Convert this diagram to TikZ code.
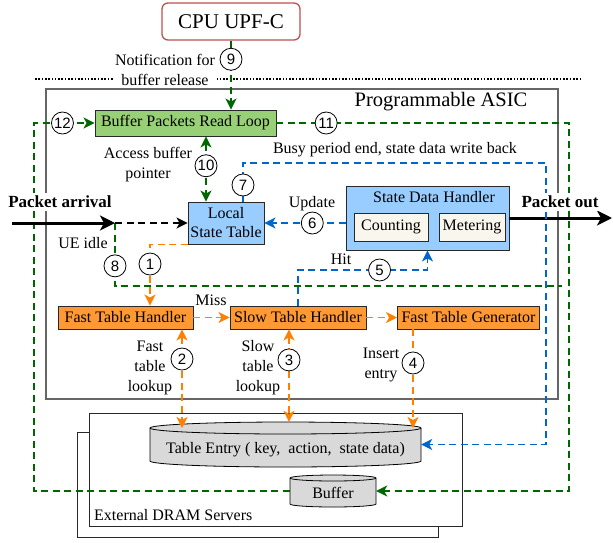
\documentclass[tikz,border=0pt]{standalone}
\usepackage{fontspec}
\setmainfont{Liberation Serif}
\newfontfamily\numfont{Liberation Sans}
\usetikzlibrary{arrows.meta}
\begin{document}
\begin{tikzpicture}[x=1pt,y=-1pt,
  >={Stealth[length=11pt,width=11pt,inset=3pt]},
  box/.style={draw={rgb,255:red,40;green,40;blue,40},line width=0.9pt,inner sep=0pt,font=\fontsize{16}{19}\selectfont},
  orangebox/.style={box,fill={rgb,255:red,255;green,153;blue,51},minimum height=23},
  bluebox/.style={box,fill={rgb,255:red,153;green,204;blue,255}},
  creambox/.style={box,fill={rgb,255:red,249;green,247;blue,237},minimum height=28},
  cylbody/.style={fill={rgb,255:red,217;green,217;blue,217},draw=black,line width=0.8pt},
  dramframe/.style={fill=white,draw={rgb,255:red,40;green,40;blue,40},line width=0.8pt},
  lbl/.style={inner sep=1pt,align=center,font=\fontsize{16}{20}\selectfont},
  cover/.style={lbl,fill=white},
  pktlbl/.style={cover,inner sep=3pt,font=\bfseries\fontsize{17}{20}\selectfont},
  numc/.style={circle,draw=black,solid,fill=white,line width=0.8pt,minimum size=22,inner sep=0pt,font=\numfont\fontsize{15}{15}\selectfont},
  flow/.style={line width=1.6pt,dash pattern=on 7pt off 4.5pt},
  gline/.style={flow,draw={rgb,255:red,0;green,102;blue,0}},
  bline/.style={flow,draw={rgb,255:red,0;green,102;blue,204}},
  oline/.style={flow,draw={rgb,255:red,255;green,128;blue,0}},
  kline/.style={flow,draw=black},
  pktline/.style={draw=black,line width=3pt,-{Stealth[length=15pt,width=15pt,inset=4pt]}}
]
\path[use as bounding box] (0,0) rectangle (613,542);
\draw[line width=1.6pt,dash pattern=on 1.6pt off 1.7pt] (35,79) -- (581,79);
\node[draw={rgb,255:red,184;green,84;blue,80},line width=1.3pt,rounded corners=6pt,fill=white,minimum width=138,minimum height=37,font=\fontsize{21}{24}\selectfont] (cpu) at (231,21.5) {CPU UPF-C};
\path[draw={rgb,255:red,102;green,102;blue,102},line width=1.2pt] (46,89) rectangle (558,399);
\node[lbl,font=\fontsize{20.5}{24}\selectfont] (asicttl) at (441,102) {Programmable ASIC};

\path[dramframe] (77,432) rectangle (438,537);
\path[dramframe] (89,413) rectangle (462,526);
\node[lbl,anchor=west] (dramlbl) at (93,515) {External DRAM Servers};
\path[cylbody] (150,428) -- (150,461) arc[start angle=180,end angle=0,x radius=135.5,y radius=6] -- (421,428) arc[start angle=0,end angle=-180,x radius=135.5,y radius=6] -- cycle;
\draw[cylbody,fill=none] (150,428) arc[start angle=180,end angle=0,x radius=135.5,y radius=6];
\node[minimum width=271,minimum height=45,inner sep=0pt,text height=21pt,text depth=4pt,font=\fontsize{16}{19}\selectfont] (te) at (285.5,444.5) {Table Entry ( key,\ \ action,\ \ state data)};
\path[cylbody] (290,478) -- (290,504) arc[start angle=180,end angle=0,x radius=43,y radius=3] -- (376,478) arc[start angle=0,end angle=-180,x radius=43,y radius=3] -- cycle;
\draw[cylbody,fill=none] (290,478) arc[start angle=180,end angle=0,x radius=43,y radius=3];
\node[minimum width=86,minimum height=32,inner sep=0pt,text height=19pt,text depth=4pt,font=\fontsize{16}{19}\selectfont] (buf) at (333,491) {Buffer};

\node[box,fill={rgb,255:red,151;green,208;blue,119},minimum width=181,minimum height=26] (bprl) at (185.5,123) {Buffer Packets Read Loop};
\node[bluebox,minimum width=76,minimum height=42,align=center] (lst) at (226,223) {Local\\State Table};
\node[bluebox,minimum width=163,minimum height=64] (sdh) at (427.5,218) {};
\node[lbl] (sdhttl) at (434,197) {State Data Handler};
\node[creambox,minimum width=74] (cnt) at (391,227) {Counting};
\node[creambox,minimum width=66] (mtr) at (472,227) {Metering};
\node[orangebox,minimum width=135] (fth) at (125.5,317.5) {Fast Table Handler};
\node[orangebox,minimum width=136] (sth) at (298,317.5) {Slow Table Handler};
\node[orangebox,minimum width=142] (ftg) at (468.5,317.5) {Fast Table Generator};

\coordinate (arrin) at (12,223);
\coordinate (arrtip) at (115,223);
\coordinate (pktout) at (612,218);
\coordinate (idleend) at (562,286);
\coordinate (lbend) at (34,0);
\coordinate (rbend) at (569,0);
\coordinate (wbtop) at (546,163);
\coordinate (hity) at (0,270);
\coordinate (tetop) at (0,428);
\coordinate (x1) at (150,0);
\coordinate (x2) at (182,0);
\coordinate (x3) at (289,0);
\coordinate (x4) at (413,0);
\coordinate (x7) at (243,0);
\coordinate (x10) at (206,0);

\draw[gline,->] (cpu.south) -- node[numc,pos=.27] (c9) {9} (cpu.south |- bprl.north);
\draw[gline,->] (buf.west) -- (lbend |- buf.west) -- (lbend |- bprl.west) -- node[numc,pos=.47] (c12) {12} (bprl.west);
\draw[gline,->] (bprl.east) -- node[numc,pos=.17] (c11) {11} (rbend |- bprl.east) -- (rbend |- buf.east) -- (buf.east);
\draw[gline,<->] (x10 |- bprl.south) -- node[numc,pos=.45] (c10) {10} (x10 |- lst.north);
\draw[gline] (arrtip) -- node[numc,pos=.68] (c8) {8} (arrtip |- idleend) -- (idleend);
\draw[pktline] (arrin) -- (arrtip);
\draw[kline,->] (arrtip) -- (lst.west);
\draw[pktline] (sdh.east) -- (pktout);

\draw[bline,->] (x7 |- lst.north) -- node[numc,pos=.43] (c7) {7} (x7 |- wbtop) -- (wbtop) |- (te.east);
\draw[bline,->] (lst.east -| sdh.west) -- node[numc,pos=.41] (c6) {6} (lst.east);
\draw[bline,->] (sth.north) -- (sth.north |- hity) -- node[numc,pos=.63] (c5) {5} (sdh.south |- hity) -- (sdh.south);

\draw[oline,->] (lst.south west) -- (x1 |- lst.south west) -- node[numc,pos=.32] (c1) {1} (x1 |- fth.north);
\draw[oline,->] (fth.east) -- (sth.west);
\draw[oline,->] (sth.east) -- (ftg.west);
\draw[oline,<->] (x2 |- fth.south) -- node[numc,pos=.3] (c2) {2} (x2 |- tetop);
\draw[oline,<->] (x3 |- sth.south) -- node[numc,pos=.33] (c3) {3} (x3 |- te.north);
\draw[oline,->] (x4 |- ftg.south) -- node[numc,pos=.34] (c4) {4} (x4 |- tetop);

\node[cover] (notelbl) at (165,70) {Notification for\\buffer release};
\node[lbl] (acclbl) at (148,165) {Access buffer\\pointer};
\node[lbl] (busylbl) at (395,150) {Busy period end, state data write back};
\node[lbl] (updlbl) at (312,204) {Update};
\node[lbl] (hitlbl) at (341,259) {Hit};
\node[lbl] (misslbl) at (211,300) {Miss};
\node[lbl] (uelbl) at (83,243) {UE idle};
\node[lbl] (fastlbl) at (150,368) {Fast\\table\\lookup};
\node[lbl] (slowlbl) at (258,368) {Slow\\table\\lookup};
\node[lbl] (inslbl) at (381,365) {Insert\\entry};
\node[pktlbl] (arrlbl) at (60,202) {Packet arrival};
\node[pktlbl] (outlbl) at (560,202) {Packet out};
\end{tikzpicture}
\end{document}
